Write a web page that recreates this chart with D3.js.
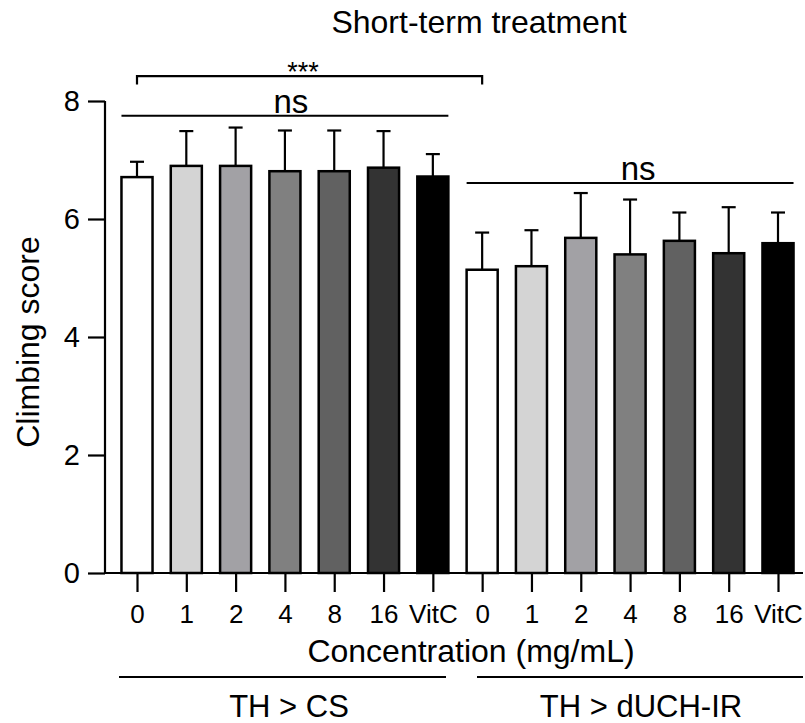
<!DOCTYPE html>
<html><head><meta charset="utf-8">
<script src="https://cdn.jsdelivr.net/npm/d3@7"></script>
<style>body{margin:0;background:#fff;} text{font-family:"Liberation Sans",Arial,sans-serif;fill:#000;}</style>
</head><body>
<svg id="chart" width="805" height="723"></svg>
<script>
const concentrations = ["0","1","2","4","8","16","VitC"];
const groups = ["TH > CS","TH > dUCH-IR"];
const meansCS = [6.71, 6.90, 6.90, 6.81, 6.81, 6.87, 6.72];
const errCS   = [0.26, 0.59, 0.65, 0.69, 0.69, 0.62, 0.38];
const meansIR = [5.14, 5.20, 5.68, 5.40, 5.63, 5.42, 5.59];
const errIR   = [0.63, 0.61, 0.76, 0.93, 0.48, 0.78, 0.52];
const fills = ["#ffffff","#d4d4d4","#a2a1a5","#808080","#616161","#333333","#000000"];
const yTicks = [0,2,4,6,8];

const bars = [];
groups.forEach((g,gi)=>{
  const m = gi===0?meansCS:meansIR, e = gi===0?errCS:errIR;
  concentrations.forEach((c,ci)=>bars.push({key:g+"|"+c, label:c, group:gi, ci, mean:m[ci], err:e[ci]}));
});

const svg = d3.select("#chart");
const x = d3.scalePoint().domain(bars.map(d=>d.key)).range([137,778]);
const bw = x.step()*0.63;
const y = d3.scaleLinear().domain([0,8]).range([573,101]);
const FONT = "Liberation Sans, Arial, sans-serif";

// bars
svg.append("g").selectAll("rect").data(bars).join("rect")
  .attr("x",d=>x(d.key)-bw/2).attr("width",bw)
  .attr("y",d=>y(d.mean)).attr("height",d=>y(0)-y(d.mean))
  .attr("fill",d=>fills[d.ci]).attr("stroke","#000").attr("stroke-width",2.5);

// error bars (upper only)
const eg = svg.append("g").attr("stroke","#000").attr("stroke-width",2.2);
eg.selectAll("line.v").data(bars).join("line").attr("class","v")
  .attr("x1",d=>x(d.key)).attr("x2",d=>x(d.key))
  .attr("y1",d=>y(d.mean)).attr("y2",d=>y(d.mean+d.err));
eg.selectAll("line.c").data(bars).join("line").attr("class","c")
  .attr("x1",d=>x(d.key)-7).attr("x2",d=>x(d.key)+7)
  .attr("y1",d=>y(d.mean+d.err)).attr("y2",d=>y(d.mean+d.err));

// y axis
const ya = svg.append("g").attr("transform","translate(105,0)")
  .call(d3.axisLeft(y).tickValues(yTicks).tickSize(17).tickPadding(8));
ya.select(".domain").attr("d","M0,"+y(8)+"V"+y(0)).attr("stroke-width",2.2);
ya.selectAll(".tick line").attr("stroke-width",2.2);
ya.selectAll("text").style("font-size","29px").style("font-family",FONT);

// x axis
const xa = svg.append("g").attr("transform","translate(0,"+y(0)+")")
  .call(d3.axisBottom(x).tickSize(19).tickPadding(13).tickFormat(k=>k.split("|")[1]));
xa.select(".domain").attr("d","M105,0H803").attr("stroke-width",2.2);
xa.selectAll(".tick line").attr("stroke-width",2.2);
xa.selectAll("text").style("font-size","26px").style("font-family",FONT);

// axis titles
svg.append("text").attr("transform","translate(39,342) rotate(-90)").attr("text-anchor","middle")
  .style("font-size","32px").text("Climbing score");
svg.append("text").attr("x",471).attr("y",662).attr("text-anchor","middle")
  .style("font-size","32px").text("Concentration (mg/mL)");
svg.append("text").attr("x",479).attr("y",33).attr("text-anchor","middle")
  .style("font-size","32px").text("Short-term treatment");

// group lines and labels
const gFirst = bars.filter(d=>d.group===0), gSecond = bars.filter(d=>d.group===1);
const groupSpans = [[119,446],[477,803]];
const groupLabelX = [289,641];
groups.forEach((g,gi)=>{
  svg.append("line").attr("x1",groupSpans[gi][0]).attr("x2",groupSpans[gi][1])
    .attr("y1",677).attr("y2",677).attr("stroke","#000").attr("stroke-width",2.2);
  svg.append("text").attr("x",groupLabelX[gi]).attr("y",717)
    .attr("text-anchor","middle").style("font-size","31px").text(g);
});

// significance
const sig = svg.append("g").attr("stroke","#000").attr("stroke-width",2.2).attr("fill","none");
const l1 = x(gFirst[0].key)-bw/2, r1 = x(gFirst[6].key)+bw/2;
const l2 = x(gSecond[0].key)-bw/2, r2 = x(gSecond[6].key)+bw/2;
sig.append("line").attr("x1",l1).attr("x2",r1).attr("y1",y(7.75)).attr("y2",y(7.75));
sig.append("line").attr("x1",l2).attr("x2",r2).attr("y1",y(6.61)).attr("y2",y(6.61));
const bx1 = x(gFirst[0].key), bx2 = x(gSecond[0].key);
sig.append("path").attr("d","M"+bx1+","+y(8.28)+"V"+y(8.42)+"H"+bx2+"V"+y(8.28));
svg.append("text").attr("x",(l1+r1)/2+6).attr("y",y(7.75)-3).attr("text-anchor","middle").style("font-size","33px").text("ns");
svg.append("text").attr("x",(l2+r2)/2+8).attr("y",y(6.61)-3).attr("text-anchor","middle").style("font-size","33px").text("ns");
svg.append("text").attr("x",303).attr("y",81).attr("text-anchor","middle").style("font-size","27px").text("***");
</script>
</body></html>
